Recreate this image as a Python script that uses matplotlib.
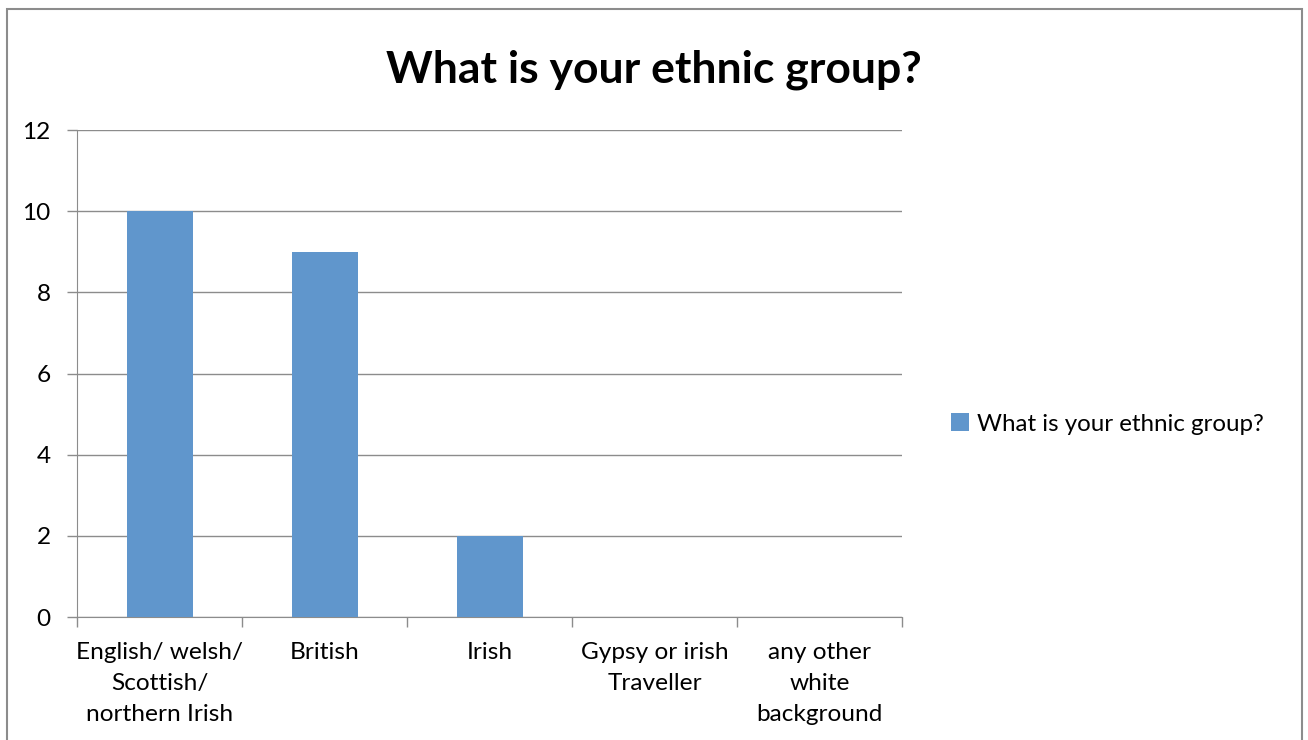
import matplotlib.pyplot as plt
import numpy as np
from matplotlib.patches import Rectangle

categories = ["English/ welsh/\nScottish/\nnorthern Irish", "British", "Irish",
              "Gypsy or irish\nTraveller", "any other\nwhite\nbackground"]
counts = [10, 9, 2, 0, 0]
series_name = "What is your ethnic group?"

plt.rcParams['font.family'] = ['Lato', 'DejaVu Sans']

fig = plt.figure(figsize=(13.08, 7.4), dpi=100)
ax = fig.add_axes([77 / 1308, 1 - 617 / 740, 825 / 1308, 487 / 740])

x = np.arange(len(categories))
ax.bar(x, counts, width=0.4, color='#6096cc', label=series_name, zorder=3)

ax.set_xlim(-0.5, len(categories) - 0.5)
ax.set_ylim(0, 12)
ax.set_yticks(range(0, 13, 2))
ax.yaxis.grid(True, color='#8c8c8c', linewidth=1, zorder=0)

# category labels centred, tick marks on the boundaries
ax.set_xticks(x)
ax.set_xticklabels(categories, fontsize=17.6, linespacing=1.6)
ax.set_xticks(np.arange(-0.5, len(categories)), minor=True)
ax.tick_params(axis='x', which='major', length=0, pad=18)
ax.tick_params(axis='x', which='minor', length=7, color='#8c8c8c', width=1)
ax.tick_params(axis='y', length=7, color='#8c8c8c', width=1, labelsize=17.6, pad=12)

for side in ['top', 'right']:
    ax.spines[side].set_visible(False)
for side in ['left', 'bottom']:
    ax.spines[side].set_color('#8c8c8c')

fig.text(654 / 1308, 1 - 70 / 740, series_name, ha='center', va='center',
         fontsize=32, fontweight='bold')

fig.legend(loc='center left', bbox_to_anchor=(929 / 1308, 1 - 424 / 740),
           frameon=False, fontsize=17.4, handlelength=0.75, handleheight=0.75,
           handletextpad=0.35)

# outer chart border
fig.patches.append(Rectangle((7 / 1308, -0.05), 1295 / 1308, 1.05 - 9 / 740,
                             transform=fig.transFigure, fill=False,
                             edgecolor='#8c8c8c', linewidth=1.5))

fig.savefig('out.png', dpi=100)
